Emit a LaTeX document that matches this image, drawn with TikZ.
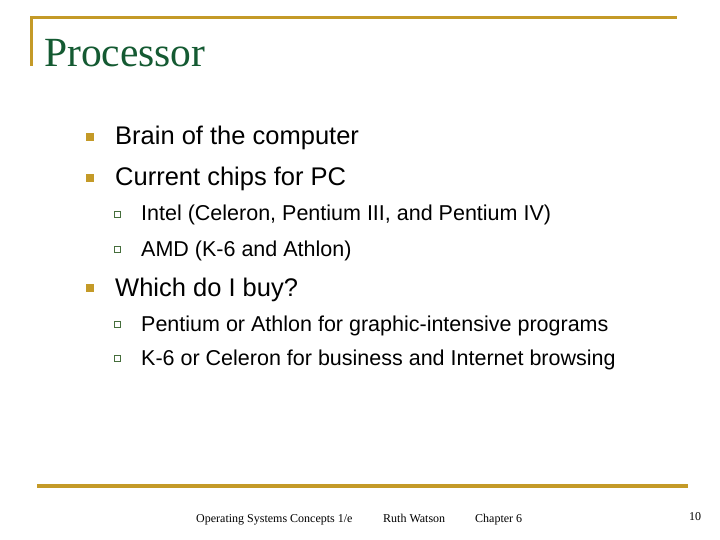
\documentclass[tikz,border=0pt]{standalone}
\usepackage{fontspec}
\setmainfont{Liberation Serif}
\newfontfamily\arial{Liberation Sans}
\definecolor{gold}{RGB}{196,154,40}
\definecolor{tgreen}{RGB}{20,90,50}
\definecolor{sgreen}{RGB}{70,110,60}
\begin{document}
\begin{tikzpicture}[x=1pt,y=-1pt,
  l1/.style={anchor=base west,font=\arial\fontsize{25.5}{28}\selectfont,inner sep=0},
  l2/.style={anchor=base west,font=\arial\fontsize{21.5}{24}\selectfont,inner sep=0},
  b1/.style={fill=gold,minimum size=8,inner sep=0},
  b2/.style={draw=sgreen,line width=0.8,minimum size=6,inner sep=0},
  foot/.style={anchor=base west,font=\fontsize{12}{14}\selectfont,inner sep=0}]
\useasboundingbox (0,0) rectangle (720,540);
\draw[gold,line width=3] (30,18) -- (677,18);
\draw[gold,line width=3] (31.5,18) -- (31.5,66);
\node[anchor=base west,inner sep=0,text=tgreen,font=\fontsize{41.5}{44}\selectfont] (title) at (44,67) {Processor};
\node[b1] (s1) at (90,137) {};
\node[l1] (t1) at (115,145) {Brain of the computer};
\node[b1] (s2) at (90,178) {};
\node[l1] (t2) at (115,186) {Current chips for PC};
\node[b2] (s3) at (117,214) {};
\node[l2] (t3) at (141,221) {Intel (Celeron, Pentium III, and Pentium IV)};
\node[b2] (s4) at (117,249) {};
\node[l2] (t4) at (141,256) {AMD (K-6 and Athlon)};
\node[b1] (s5) at (90,288) {};
\node[l1] (t5) at (115,296) {Which do I buy?};
\node[b2] (s6) at (117,324) {};
\node[l2] (t6) at (141,331) {Pentium or Athlon for graphic-intensive programs};
\node[b2] (s7) at (117,358) {};
\node[l2] (t7) at (141,365) {K-6 or Celeron for business and Internet browsing};
\draw[gold,line width=3.5] (37,486) -- (688,486);
\node[foot] (f1) at (196,522) {Operating Systems Concepts 1/e};
\node[foot] (f2) at (383,522) {Ruth Watson};
\node[foot] (f3) at (475,522) {Chapter 6};
\node[foot] (f4) at (689,520) {10};
\end{tikzpicture}
\end{document}
